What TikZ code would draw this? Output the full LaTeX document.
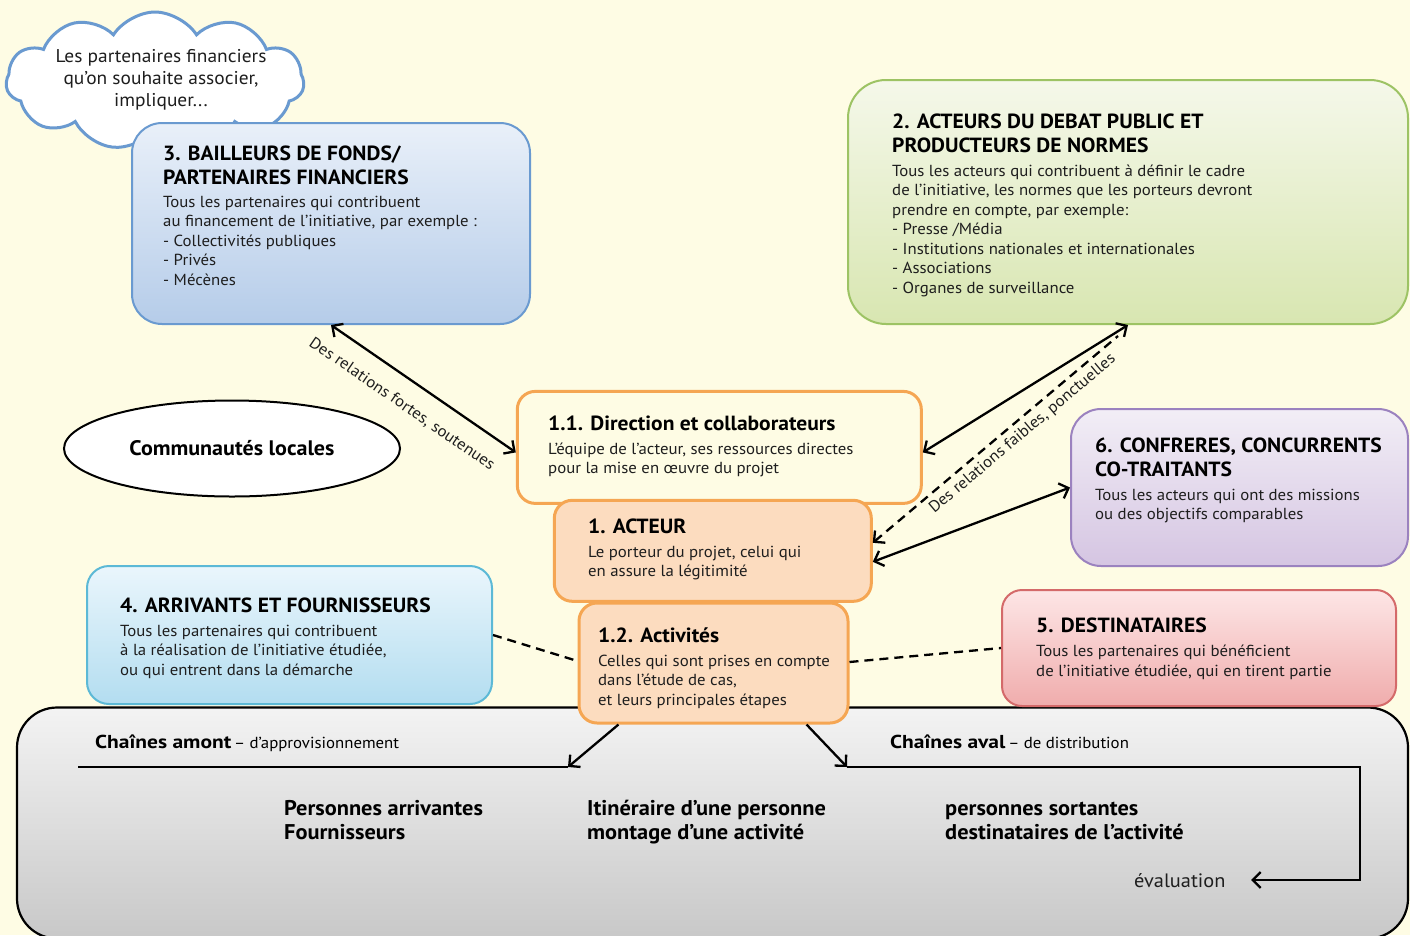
\documentclass[tikz,border=0pt]{standalone}
\usepackage{fontspec}
\setmainfont{PT Sans}[FakeStretch=1.05]
\newfontfamily\wf{PT Sans}[FakeStretch=1.15]
\usetikzlibrary{shapes.symbols,shapes.geometric,arrows.meta,calc}
\definecolor{bgc}{HTML}{FEFCE4}
\definecolor{orb}{HTML}{F5A653}
\definecolor{peach}{HTML}{FCDCBF}
\definecolor{blb}{HTML}{6A9AD0}
\definecolor{blt}{HTML}{E9F0F9}
\definecolor{bld}{HTML}{B5CCE9}
\definecolor{grb}{HTML}{9DC364}
\definecolor{grt}{HTML}{F5F8EA}
\definecolor{grd}{HTML}{D8E6B1}
\definecolor{pub}{HTML}{9B82BF}
\definecolor{put}{HTML}{F2EEF6}
\definecolor{pud}{HTML}{D5C5E2}
\definecolor{cyb}{HTML}{5CB9D6}
\definecolor{cyt}{HTML}{EAF6FC}
\definecolor{cyd}{HTML}{B3DDF0}
\definecolor{rdb}{HTML}{D46A6A}
\definecolor{rdt}{HTML}{FDE6E6}
\definecolor{rdd}{HTML}{F0ACAC}
\definecolor{gyt}{HTML}{F3F3F3}
\definecolor{gyd}{HTML}{C8C8C8}
\definecolor{txt}{HTML}{1E1E1E}
\newcommand\ttlf{\fontsize{20.5}{24.3}\selectfont\bfseries}
\newcommand\bodf{\fontsize{16}{19.5}\selectfont}
\newcommand\lns[1]{\begin{tabular}[t]{@{}l@{}}#1\end{tabular}}
\newcommand\clns[1]{\begin{tabular}[t]{@{}c@{}}#1\end{tabular}}
\begin{document}
\begin{tikzpicture}[x=1pt,y=-1pt,
  bx/.style={rectangle, line width=2pt, inner sep=0pt},
  ttl/.style={anchor=base west, inner sep=0pt, font=\ttlf, text=black},
  bod/.style={anchor=base west, inner sep=0pt, font=\bodf, text=txt},
  bigt/.style={anchor=base west, inner sep=0pt, font=\fontsize{21.3}{24}\selectfont\bfseries, text=black},
  lbl/.style={inner sep=0pt, font=\fontsize{16}{18}\selectfont, text=txt},
  arr/.style={line width=2.3pt, draw=black},
  >={Straight Barb[length=8pt,width=16pt]},
  dsh/.style={dash pattern=on 9pt off 6pt}
]
\useasboundingbox (0,0) rectangle (1410,935);
\fill[bgc] (0,0) rectangle (1410,935);

% cloud
\node[cloud, cloud puffs=11, cloud puff arc=115, aspect=2.2, draw=blb, line width=3pt, fill=white,
  minimum width=298pt, minimum height=138pt, inner sep=0pt] (cl) at (155,81) {};
\node[anchor=base, inner sep=0pt, font=\fontsize{18.5}{22}\selectfont, text=txt] (clt) at (161,62)
  {\clns{Les partenaires financiers\\qu’on souhaite associer,\\impliquer...}};

% bottom panel
\node[bx, draw=black, line width=2.2pt, top color=gyt, bottom color=gyd, rounded corners=40pt,
  minimum width=1391pt, minimum height=231pt] (bot) at (712.5,823) {};

% box 3
\node[bx, draw=blb, top color=blt, bottom color=bld, rounded corners=30pt,
  minimum width=398pt, minimum height=201pt] (b3) at (331,223.5) {};
\node[ttl] (t3) at (163,160) {\lns{3. BAILLEURS DE FONDS/\\PARTENAIRES FINANCIERS}};
\node[bod] (d3) at (163,207) {\lns{Tous les partenaires qui contribuent\\au financement de l’initiative, par exemple :\\- Collectivités publiques\\- Privés\\- Mécènes}};

% box 2
\node[bx, draw=grb, top color=grt, bottom color=grd, rounded corners=38pt,
  minimum width=560pt, minimum height=244pt] (b2) at (1128,202) {};
\node[ttl] (t2) at (892,128) {\lns{2. ACTEURS DU DEBAT PUBLIC ET\\PRODUCTEURS DE NORMES}};
\node[bod] (d2) at (892,176) {\lns{Tous les acteurs qui contribuent à définir le cadre\\de l’initiative, les normes que les porteurs devront\\prendre en compte, par exemple:\\- Presse /Média\\- Institutions nationales et internationales\\- Associations\\- Organes de surveillance}};

% ellipse
\node[ellipse, draw=black, line width=2pt, fill=white, minimum width=336pt, minimum height=96pt,
  font=\fontsize{21}{24}\selectfont\bfseries] (el) at (232,448.5) {Communautés locales};

% box 6
\node[bx, draw=pub, top color=put, bottom color=pud, rounded corners=30pt,
  minimum width=337pt, minimum height=157pt] (b6) at (1239.5,487.5) {};
\node[ttl] (t6) at (1095,452) {\lns{6. CONFRERES, CONCURRENTS\\CO-TRAITANTS}};
\node[bod] (d6) at (1095,500) {\lns{Tous les acteurs qui ont des missions\\ou des objectifs comparables}};

% box 4
\node[bx, draw=cyb, top color=cyt, bottom color=cyd, rounded corners=22pt,
  minimum width=405pt, minimum height=138pt] (b4) at (289.5,635) {};
\node[ttl] (t4) at (120,612) {4. ARRIVANTS ET FOURNISSEURS};
\node[bod] (d4) at (120,636) {\lns{Tous les partenaires qui contribuent\\à la réalisation de l’initiative étudiée,\\ou qui entrent dans la démarche}};

% box 5
\node[bx, draw=rdb, top color=rdt, bottom color=rdd, rounded corners=20pt,
  minimum width=394pt, minimum height=116pt] (b5) at (1199,648) {};
\node[ttl] (t5) at (1036,632) {5. DESTINATAIRES};
\node[bod] (d5) at (1036,656.5) {\lns{Tous les partenaires qui bénéficient\\de l’initiative étudiée, qui en tirent partie}};

% box 1.1
\node[bx, draw=orb, line width=3pt, fill=bgc, rounded corners=18pt,
  minimum width=404pt, minimum height=112pt] (b11) at (719.3,447.4) {};
\node[ttl] (t11) at (548,430) {1.1. Direction et collaborateurs};
\node[bod] (d11) at (548,454) {\lns{L’équipe de l’acteur, ses ressources directes\\pour la mise en œuvre du projet}};

% box 1
\node[bx, draw=orb, line width=3pt, fill=peach, rounded corners=18pt,
  minimum width=317pt, minimum height=101pt] (b1) at (712.8,550.8) {};
\node[ttl] (t1) at (588,533) {1. ACTEUR};
\node[bod] (d1) at (588,557) {\lns{Le porteur du projet, celui qui\\en assure la légitimité}};

% box 1.2
\node[bx, draw=orb, line width=3pt, fill=peach, rounded corners=18pt,
  minimum width=269pt, minimum height=120pt] (b12) at (713.5,663) {};
\node[ttl] (t12) at (598,642) {1.2. Activités};
\node[bod] (d12) at (598,666) {\lns{Celles qui sont prises en compte\\dans l’étude de cas,\\et leurs principales étapes}};

% connectors
\draw[arr,<->] (b3.south) -- node[lbl, sloped, below=17pt, pos=0.46] (lf) {Des relations fortes, soutenues} ($(b11.west)+(0,5)$);
\draw[arr,<->] (b2.south) -- ($(b11.east)+(0,5)$);
\draw[arr,dsh,<-] ($(b1.east)+(0,-8)$) -- node[lbl, sloped, below=5pt, pos=0.576] (lw) {Des relations faibles, ponctuelles} ($(b2.south)+(-10,11)$);
\draw[arr,<->] (b6.west) -- ($(b1.east)+(0,11)$);
\draw[arr,dsh] (b4.east) -- ($(b12.west)+(0,-2)$);
\draw[arr,dsh] ($(b12.east)+(0,-1)$) -- (b5.west);

% bottom chains
\coordinate (amL) at (78,767);
\coordinate (amR) at (568,767);
\coordinate (avL) at (847,767);
\coordinate (avR) at (1360,767);
\coordinate (avB) at (1360,880);
\coordinate (evT) at (1251,880);
\node[anchor=base west, inner sep=0pt, text=black] (ca) at (95,748) {{\wf\fontsize{18.7}{22}\selectfont\bfseries Chaînes amont} {\fontsize{16}{18}\selectfont – d’approvisionnement}};
\node[anchor=base west, inner sep=0pt, text=black] (cv) at (890,748) {{\wf\fontsize{18.7}{22}\selectfont\bfseries Chaînes aval} {\fontsize{16}{18}\selectfont – de distribution}};
\draw[arr] (amL) -- (amR);
\draw[arr,->] ($(b12.south west)+(41,0)$) -- (amR);
\draw[arr,->] ($(b12.south east)+(-43,0)$) -- (avL);
\draw[arr,->] (avL) -- (avR) -- (avB) -- (evT);
\node[anchor=base west, inner sep=0pt, font=\fontsize{19.4}{22}\selectfont, text=txt] (ev) at (1134,887) {évaluation};

\node[bigt] (p1) at (284,815) {\lns{Personnes arrivantes\\Fournisseurs}};
\node[bigt] (p2) at (587,815) {\lns{Itinéraire d’une personne\\montage d’une activité}};
\node[bigt] (p3) at (945,815) {\lns{personnes sortantes\\destinataires de l’activité}};
\end{tikzpicture}
\end{document}
